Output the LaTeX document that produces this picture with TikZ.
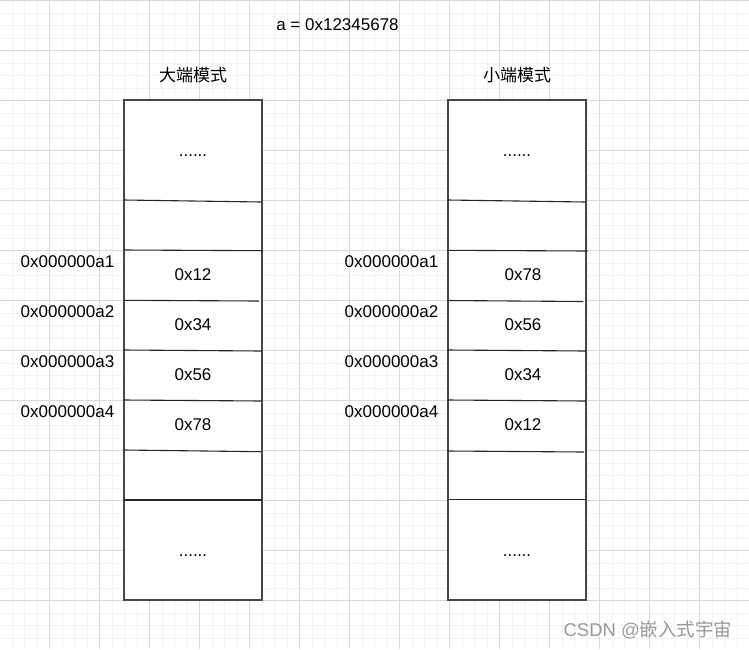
\documentclass[tikz,border=0pt]{standalone}
\usepackage{fontspec}
\setmainfont{Liberation Sans}
\newfontfamily\cjk{Noto Sans CJK SC}
\definecolor{gridminor}{HTML}{F2F2F2}
\definecolor{gridmajor}{HTML}{D9D9D9}
\definecolor{boxline}{HTML}{474747}
\definecolor{wmgray}{HTML}{9A9A9A}
\tikzset{
  gminor/.style={draw=gridminor, line width=1pt},
  gmajor/.style={draw=gridmajor, line width=1pt},
  membox/.style={draw=boxline, fill=white, line width=1.3pt, minimum width=138pt, minimum height=500pt, inner sep=0pt},
  divider/.style={draw=black!85, line width=1.1pt},
  txt/.style={font=\fontsize{17}{20}\selectfont, inner sep=0pt, text=black},
  dots/.style={txt, anchor=base},
  cjktxt/.style={font=\cjk\fontsize{17}{20}\selectfont, inner sep=0pt, text=black},
  wmark/.style={font=\fontsize{18.5}{20}\selectfont, inner sep=0pt, text=wmgray}
}
\begin{document}
\begin{tikzpicture}[x=1pt,y=-1pt]
\useasboundingbox (0,0) rectangle (749,649);
\fill[white] (0,0) rectangle (749,649);
% grid
\foreach \i in {0,...,61} {
  \draw[gminor] ({-0.5+12.5*\i},0) -- ({-0.5+12.5*\i},649);
}
\foreach \i in {0,...,52} {
  \draw[gminor] (0,{0.5+12.5*\i}) -- (749,{0.5+12.5*\i});
}
\foreach \i in {0,...,15} {
  \draw[gmajor] ({-0.5+50*\i},0) -- ({-0.5+50*\i},649);
}
\foreach \i in {0,...,13} {
  \draw[gmajor] (0,{0.5+50*\i}) -- (749,{0.5+50*\i});
}
% boxes
\node[membox] (L) at (193,350) {};
\node[membox] (R) at (517,350) {};
% dividers left
\draw[divider] (124,200) -- (261,202);
\draw[divider] (124,250) -- (263,250.7);
\draw[divider] (124,300.3) -- (259,301);
\draw[divider] (124,350) -- (262,351);
\draw[divider] (124,400) -- (262,401);
\draw[divider] (124,450) -- (261,451.7);
\draw[divider] (124,500) -- (262,500);
% dividers right
\draw[divider] (448,200) -- (585,202);
\draw[divider] (448,250.3) -- (587.5,251);
\draw[divider] (448,300.5) -- (583,301.5);
\draw[divider] (448,350) -- (586,351);
\draw[divider] (448,400) -- (586,401);
\draw[divider] (448,451) -- (584,452);
\draw[divider] (448,499.5) -- (586,499.5);
% titles
\node[txt] (title) at (337.5,25) {a = 0x12345678};
\node[cjktxt] (tL) at (193,75) {大端模式};
\node[cjktxt] (tR) at (517,75) {小端模式};
% left cells
\node[dots] (Ltop) at (193,156) {......};
\node[txt] (L1) at (193,275) {0x12};
\node[txt] (L2) at (193,325) {0x34};
\node[txt] (L3) at (193,375) {0x56};
\node[txt] (L4) at (193,425) {0x78};
\node[dots] (Lbot) at (193,556) {......};
% right cells
\node[dots] (Rtop) at (517,156) {......};
\node[txt] (R1) at (523,275) {0x78};
\node[txt] (R2) at (523,325) {0x56};
\node[txt] (R3) at (523,375) {0x34};
\node[txt] (R4) at (523,425) {0x12};
\node[dots] (Rbot) at (517,556) {......};
% addresses
\node[txt] (La1) at (67.5,261.5) {0x000000a1};
\node[txt] (La2) at (67.5,311.5) {0x000000a2};
\node[txt] (La3) at (67.5,361.5) {0x000000a3};
\node[txt] (La4) at (67.5,411.5) {0x000000a4};
\node[txt] (Ra1) at (391.5,261.5) {0x000000a1};
\node[txt] (Ra2) at (391.5,311.5) {0x000000a2};
\node[txt] (Ra3) at (391.5,361.5) {0x000000a3};
\node[txt] (Ra4) at (391.5,411.5) {0x000000a4};
% watermark
\node[wmark] (wm) at (648,630) {CSDN @{\cjk 嵌入式宇宙}};
\end{tikzpicture}
\end{document}
